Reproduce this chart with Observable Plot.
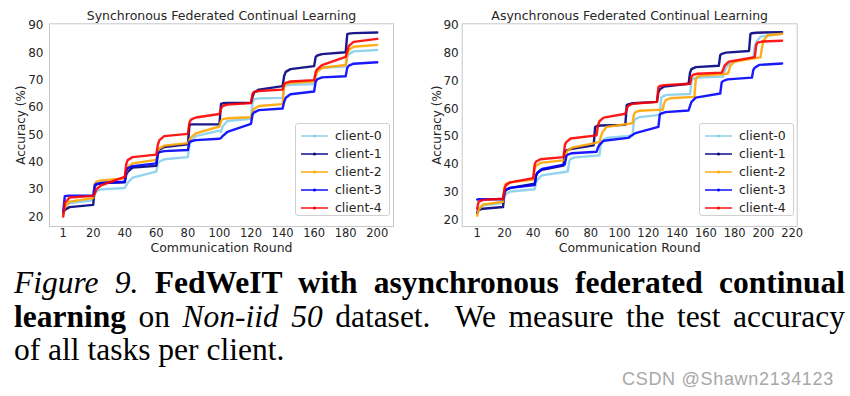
<!DOCTYPE html>
<html><head><meta charset="utf-8">
<script src="https://cdn.jsdelivr.net/npm/d3@7"></script>
<script src="https://cdn.jsdelivr.net/npm/@observablehq/plot@0.6"></script>
<style>
body{margin:0;background:#fff;width:850px;height:396px;overflow:hidden;position:relative;font-family:"DejaVu Sans",sans-serif}
.panel{position:absolute;top:0;width:425px;height:255px}
.legend{position:absolute;width:95px;height:93px;border:1px solid #d0d0d0;border-radius:3px;background:rgba(255,255,255,0.85);box-sizing:border-box}
.lrow{position:absolute;left:0;height:18px;line-height:18px;font-size:12.5px;color:#262626;white-space:nowrap}
.lrow svg{position:absolute;left:5px;top:7px}
.lrow span{position:absolute;left:39px}
#cap{position:absolute;left:14px;top:266px;width:831px;font-family:"Liberation Serif",serif;font-size:31.5px;line-height:33.5px;color:#000}
.j{text-align:justify;text-align-last:justify}
#wm{position:absolute;left:622px;top:369px;font-family:"Liberation Sans",sans-serif;font-size:18px;color:#a8a8a8;letter-spacing:0.7px;white-space:nowrap}
</style></head><body>
<div id="left" class="panel" style="left:0"></div>
<div id="right" class="panel" style="left:425px"></div>
<div id="cap">
<div class="j"><i>Figure&nbsp;9.</i> <b>FedWeIT with asynchronous federated continual</b></div>
<div class="j"><b>learning</b> on <i>Non-iid&nbsp;50</i> dataset.&nbsp; We measure the test accuracy</div>
<div>of all tasks per client.</div>
</div>
<div id="wm">CSDN @Shawn2134123</div>
<script>
const clients = ["client-0", "client-1", "client-2", "client-3", "client-4"];
const colors = ["#87CEEB", "#000080", "#FFA500", "#0000FF", "#FF0000"];
const titles = ["Synchronous Federated Continual Learning", "Asynchronous Federated Continual Learning"];
const yLabel = "Accuracy (%)";
const xLabel = "Communication Round";
const yTicks = [20, 30, 40, 50, 60, 70, 80, 90];
const syncXTicks = [1, 20, 40, 60, 80, 100, 120, 140, 160, 180, 200];
const asyncXTicks = [1, 20, 40, 60, 80, 100, 120, 140, 160, 180, 200, 220];

// Synchronous: all clients share the same task boundaries
const syncRounds = [1,2,5,20, 21,22,25,40, 41,42,45,60, 61,62,65,80, 81,82,85,100, 101,102,105,120, 121,122,125,140, 141,142,145,160, 161,162,165,180, 181,182,185,200];
const syncClient0 = [21,23.5,25,26, 28.5,29.3,30,30.5, 31.5,32.5,34.3,36.5, 39.5,40.2,41,41.8, 46.5,47.5,49.5,51.5, 51,53,55,55.8, 62,63,63.3,63.5, 67.5,68,68.3,68.5, 72,73.5,74.5,75, 78.5,79.5,80.5,81];
const syncClient1 = [21.5,22.5,23.5,24.3, 31,31.8,32.3,32.6, 35.5,36.5,38,38.6, 43.5,44.5,45.5,46.5, 53.5,53.8,53.8,53.8, 61.3,61.5,61.6,61.7, 64,65.5,66.5,67.8, 71.5,73,74,75.1, 78.5,79,79.5,80.2, 86.8,87,87.2,87.4];
const syncClient2 = [21.5,23.5,25.5,26.8, 32,32.8,33.3,34, 36.5,38,39.5,40.8, 44,45,46,46.9, 48,49,50.5,53, 55,55.7,56,56.4, 58.5,59.5,60.5,61.2, 68,68.7,69,69.5, 71.5,73,74.5,75.5, 79.5,81,82.2,82.9];
const syncClient3 = [22,27.5,27.7,27.7, 31.5,32,32.3,32.8, 37,37.8,38.5,39.5, 43.2,43.6,44,44.4, 47.3,47.6,48,48.5, 48.8,49.5,51,54, 57.5,58.2,59,59.6, 62,63.5,64.8,65.8, 69.5,70.3,71,71.4, 74.5,75.3,76,76.5];
const syncClient4 = [20,25,27,27.6, 28.5,30,31.5,34.6, 39.5,40.8,41.8,42.7, 46.5,48,49.5,50.3, 54.5,55.5,56.3,57.6, 59.5,60.5,61,61.6, 65,65.7,66,66.5, 68.5,69,69.5,70, 73,74,75.5,78.5, 80.5,82.5,84,85.1];

// Asynchronous: each client moves to the next task at its own round
const asyncRounds0 = [1,2,5,19, 20,21,24,41, 42,43,46,64, 65,66,69,86, 87,88,91,109, 110,111,114,128, 129,130,133,149, 150,151,154,172, 173,174,177,193, 194,195,198,213];
const asyncRounds1 = [1,2,5,19, 20,21,24,41, 42,43,46,61, 62,63,66,82, 83,84,87,104, 105,106,109,126, 127,128,131,148, 149,150,153,169, 170,171,174,190, 191,192,195,213];
const asyncRounds2 = [1,2,5,19, 20,21,24,40, 41,42,45,62, 63,64,67,86, 87,88,91,109, 110,111,114,130, 131,132,135,152, 153,154,157,175, 176,177,180,198, 199,200,203,213];
const asyncRounds3 = [1,2,5,19, 20,21,24,41, 42,43,46,62, 63,64,67,84, 85,86,89,106, 107,108,111,127, 128,129,132,148, 149,150,153,170, 171,172,175,192, 193,194,197,213];
const asyncRounds4 = [1,2,5,19, 20,21,24,40, 41,42,45,61, 62,63,66,84, 85,86,89,104, 105,106,109,126, 127,128,131,149, 150,151,154,171, 172,173,176,194, 195,196,199,213];
const asyncClient0 = [23,24,25.2,26, 28.5,29.3,30.2,31, 33.5,34.5,36,37.4, 41,42,42.5,43.2, 47.5,48.5,49.5,50.3, 55.5,56.3,57,57.8, 64,64.5,65,65.3, 70,70.8,71.2,71.6, 73.5,75,76.5,78.5, 82.5,84,86,87];
const asyncClient1 = [22.5,23.5,24,24.6, 30,30.8,31.5,33, 36,37,38,39.5, 44.5,45,45.5,46.8, 53.5,53.7,54,54.2, 61.3,61.6,62,62.5, 66,67,68,69, 73,74.3,75,75.5, 79.3,79.8,80.2,80.8, 87,87.2,87.4,87.6];
const asyncClient2 = [21.5,23.5,25.5,26.5, 32,33,33.5,34.5, 38.5,39.5,40.5,41.5, 44,45,46,48, 50,51.5,53.5,54.8, 58,58.8,59.3,59.7, 62,63,63.8,64.3, 70.5,71.5,72,72.6, 73.5,75.5,77,78.5, 82,84.5,86.5,87];
const asyncClient3 = [27.3,27.4,27.4,27.4, 30,30.8,31.5,32.5, 36,37,38.3,40, 43,43.5,44,44.5, 46,47,48.5,49.5, 49.8,50.3,51.2,53.5, 58,58.3,58.8,59.4, 61,62.5,64,65.5, 69.5,70,70.6,71.2, 74,74.8,75.8,76.3];
const asyncClient4 = [24,26.5,27.2,27.6, 31,32.5,33.5,35, 40,41,41.8,42.6, 47,48,49.3,50.4, 54,55.5,56.8,58.2, 60,61,61.8,62.5, 67.8,68.2,68.5,69, 71.5,72.2,72.6,73, 74,75.5,77,78.6, 83,83.8,84.2,84.5];

function buildTable(roundsList, valuesList) {
  const rows = [];
  clients.forEach((c, k) => {
    roundsList[k].forEach((r, i) => rows.push({client: c, round: r, acc: valuesList[k][i]}));
  });
  return rows;
}

const syncData = buildTable([syncRounds, syncRounds, syncRounds, syncRounds, syncRounds],
  [syncClient0, syncClient1, syncClient2, syncClient3, syncClient4]);
const asyncData = buildTable([asyncRounds0, asyncRounds1, asyncRounds2, asyncRounds3, asyncRounds4],
  [asyncClient0, asyncClient1, asyncClient2, asyncClient3, asyncClient4]);

function chart(data, opts) {
  return Plot.plot({
    width: 425, height: 255,
    marginLeft: opts.ml, marginRight: opts.mr, marginTop: 23.3, marginBottom: 29,
    style: {fontFamily: "DejaVu Sans", fontSize: "12px", color: "#262626", background: "transparent", overflow: "visible"},
    x: {domain: opts.xDomain},
    y: {domain: opts.yDomain},
    color: {domain: clients, range: colors},
    marks: [
      Plot.frame({stroke: "#c8c8c8"}),
      Plot.axisX({ticks: opts.xTicks, tickSize: 0, tickPadding: 2, label: null, fontSize: 11.5, tickFormat: d => String(d)}),
      Plot.axisY({ticks: yTicks, tickSize: 0, tickPadding: opts.yPad, label: null, fontSize: 12}),
      Plot.line(data, {x: "round", y: "acc", z: "client", stroke: "client", strokeWidth: 2.4, strokeOpacity: 0.9, curve: "linear"}),
      Plot.text([opts.title], {frameAnchor: "top", lineAnchor: "middle", dy: -7.6, fontSize: 12.5, fill: "#262626"}),
      Plot.text([yLabel], {frameAnchor: "left", textAnchor: "middle", lineAnchor: "middle", dx: opts.yLabDx, rotate: -90, fontSize: 12, fill: "#262626"}),
      Plot.text([xLabel], {frameAnchor: "bottom", lineAnchor: "middle", dy: 21.5, fontSize: 12.5, fill: "#262626"})
    ]
  });
}

function legend(left, top) {
  const box = document.createElement("div");
  box.className = "legend";
  box.style.left = left + "px";
  box.style.top = top + "px";
  clients.forEach((c, i) => {
    const row = document.createElement("div");
    row.className = "lrow";
    row.style.top = (3 + 18 * i) + "px";
    row.innerHTML = `<svg width="27" height="4"><line x1="0" y1="2" x2="27" y2="2" stroke="${colors[i]}" stroke-width="2" stroke-opacity="0.7"/><circle cx="13.5" cy="2" r="1.5" fill="${colors[i]}"/></svg><span>${c}</span>`;
    box.appendChild(row);
  });
  document.body.appendChild(box);
}

document.getElementById("left").appendChild(chart(syncData, {
  ml: 49, mr: 32, xDomain: [-7.7, 210.3], yDomain: [16.4, 90.6], xTicks: syncXTicks,
  yPad: 6, yLabDx: -28, title: titles[0]
}));
document.getElementById("right").appendChild(chart(asyncData, {
  ml: 36.7, mr: 53.3, xDomain: [-9.4, 223.5], yDomain: [17.6, 90.6], xTicks: asyncXTicks,
  yPad: 3.5, yLabDx: -25, title: titles[1]
}));
legend(295, 123);
legend(699, 123);
</script>
</body></html>
